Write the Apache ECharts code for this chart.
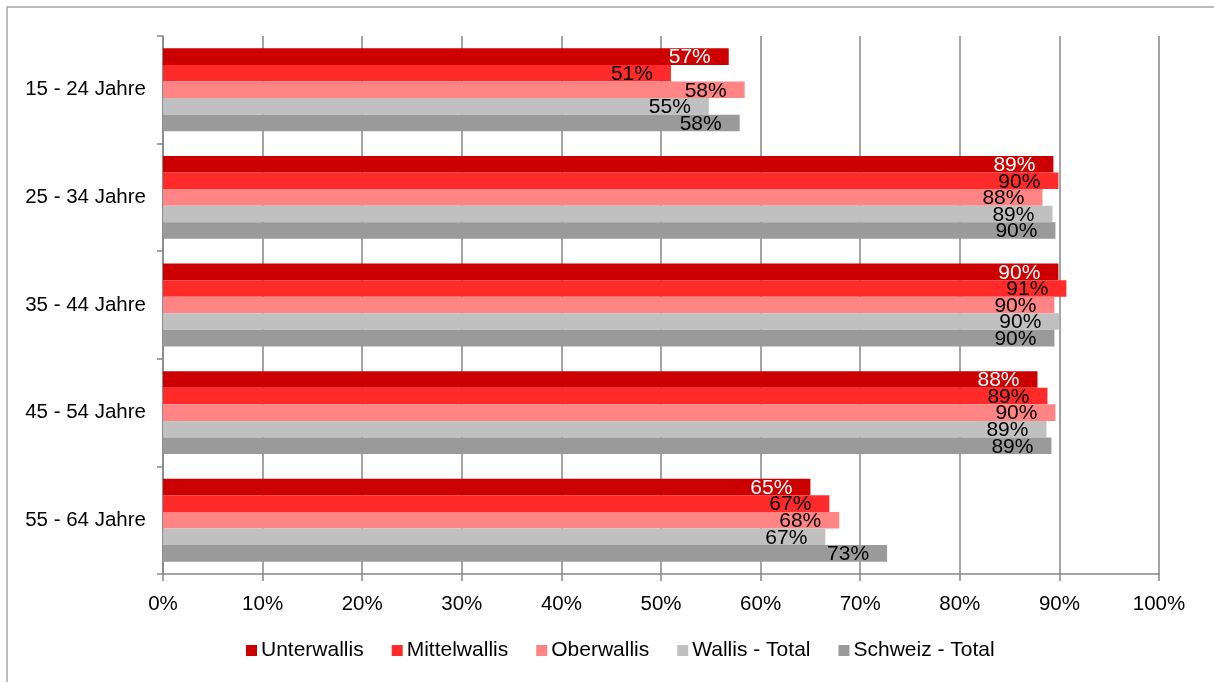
<!DOCTYPE html>
<html>
<head>
<meta charset="utf-8">
<script src="https://cdn.jsdelivr.net/npm/echarts@6/dist/echarts.min.js"></script>
<style>
html,body{margin:0;padding:0;background:#fff;}
#chart{width:1214px;height:682px;}
</style>
</head>
<body>
<div id="chart"></div>
<script>
const categories = ['15 - 24 Jahre', '25 - 34 Jahre', '35 - 44 Jahre', '45 - 54 Jahre', '55 - 64 Jahre'];
const seriesNames = ['Unterwallis', 'Mittelwallis', 'Oberwallis', 'Wallis - Total', 'Schweiz - Total'];
const unterwallis = [56.8, 89.4, 89.9, 87.8, 65.0];
const mittelwallis = [51.0, 89.9, 90.7, 88.8, 66.9];
const oberwallis = [58.4, 88.3, 89.5, 89.6, 67.9];
const wallisTotal = [54.8, 89.3, 90.0, 88.7, 66.5];
const schweizTotal = [57.9, 89.6, 89.5, 89.2, 72.7];
const xTicks = [0, 10, 20, 30, 40, 50, 60, 70, 80, 90, 100];

const colors = ['#CC0000', '#FF2A2A', '#FF8585', '#C0C0C0', '#9A9A9A'];
const labelColors = ['#ffffff', '#000000', '#000000', '#000000', '#000000'];
const allData = [unterwallis, mittelwallis, oberwallis, wallisTotal, schweizTotal];
const FONT = '"Liberation Sans", Arial, sans-serif';

const chart = echarts.init(document.getElementById('chart'), null, {renderer: 'canvas'});
chart.setOption({
  animation: false,
  backgroundColor: '#ffffff',
  color: colors,
  graphic: [{
    type: 'rect',
    shape: {x: 7, y: 7, width: 1300, height: 800},
    style: {fill: 'none', stroke: '#a6a6a6', lineWidth: 1.5},
    silent: true
  }],
  grid: {left: 163, right: 55, top: 36, bottom: 108},
  legend: {
    data: seriesNames,
    bottom: 16,
    left: 241,
    itemWidth: 11,
    itemHeight: 11,
    itemGap: 28,
    icon: 'rect',
    textStyle: {fontFamily: FONT, fontSize: 21, color: '#000', padding: [0, 0, 0, -1]}
  },
  xAxis: {
    type: 'value',
    min: 0,
    max: 100,
    interval: 10,
    axisLine: {show: true, lineStyle: {color: '#868686', width: 1.5}},
    axisTick: {show: true, length: 7, lineStyle: {color: '#868686', width: 1.5}},
    splitLine: {show: true, lineStyle: {color: '#868686', width: 1.5}},
    axisLabel: {
      fontFamily: FONT, fontSize: 20.5, color: '#000', margin: 20,
      formatter: v => xTicks.includes(v) ? v + '%' : ''
    }
  },
  yAxis: {
    type: 'category',
    data: categories,
    inverse: true,
    axisLine: {show: true, lineStyle: {color: '#868686', width: 1.5}},
    axisTick: {show: true, length: 6, lineStyle: {color: '#868686', width: 1.5}},
    axisLabel: {fontFamily: FONT, fontSize: 20.5, color: '#000', margin: 17, padding: [4, 0, 0, 0]}
  },
  series: seriesNames.map((name, i) => ({
    name: name,
    type: 'bar',
    data: allData[i],
    barGap: '0%',
    barCategoryGap: '23%',
    itemStyle: {color: colors[i]},
    label: {
      show: true,
      position: 'insideRight',
      distance: 18,
      offset: [0, 1],
      fontFamily: FONT,
      fontSize: 21,
      color: labelColors[i],
      formatter: p => Math.round(p.value) + '%'
    }
  }))
});
</script>
</body>
</html>
